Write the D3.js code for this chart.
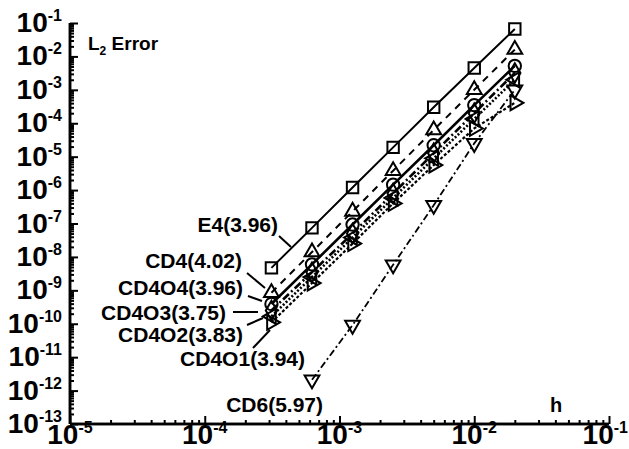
<!DOCTYPE html>
<html>
<head>
<meta charset="utf-8">
<script src="https://cdn.jsdelivr.net/npm/d3@7/dist/d3.min.js"></script>
<style>
  body { margin: 0; background: #fff; }
  svg { display: block; font-family: "Liberation Sans", Arial, sans-serif; font-weight: bold; }
</style>
</head>
<body>
<svg id="chart" width="629" height="449"></svg>
<script>
// grid spacing h (fine -> coarse)
const hValues = [0.0003125, 0.000625, 0.00125, 0.0025, 0.005, 0.01, 0.02]
const hValuesCD6 = [0.000625, 0.00125, 0.0025, 0.005, 0.01, 0.02]

// L2 error of each scheme
const errE4    = [4.7e-9, 7.4e-8, 1.2e-6, 1.9e-5, 3.0e-4, 4.5e-3, 6.6e-2]
const errCD4   = [8.5e-10, 1.4e-8, 2.3e-7, 3.8e-6, 6.3e-5, 1.0e-3, 1.6e-2]
const errCD4O4 = [3.9e-10, 6.0e-9, 9.3e-8, 1.45e-6, 2.2e-5, 3.5e-4, 5.2e-3]
const errCD4O3 = [2.5e-10, 3.5e-9, 5.0e-8, 7.9e-7, 1.26e-5, 2.0e-4, 3.2e-3]
const errCD4O2 = [1.66e-10, 2.5e-9, 3.8e-8, 5.8e-7, 8.9e-6, 1.35e-4, 2.0e-3]
const errCD4O1 = [1.1e-10, 1.65e-9, 2.5e-8, 4.0e-7, 5.6e-6, 7.0e-5, 4.1e-4]
const errCD6   = [2.1e-12, 9.1e-11, 5.8e-9, 3.5e-7, 2.5e-5, 1.0e-3]

const seriesNames = ['E4', 'CD4', 'CD4O4', 'CD4O3', 'CD4O2', 'CD4O1', 'CD6']
const seriesRates = ['3.96', '4.02', '3.96', '3.75', '3.83', '3.94', '5.97']

const xTickExp = [-5, -4, -3, -2, -1]
const yTickExp = [-13, -12, -11, -10, -9, -8, -7, -6, -5, -4, -3, -2, -1]

const series = [
    {name: 'E4',    h: hValues,    e: errE4,    sym: 'square',   dash: null,      w: 2},
    {name: 'CD4',   h: hValues,    e: errCD4,   sym: 'up',       dash: '7,6',     w: 2},
    {name: 'CD4O4', h: hValues,    e: errCD4O4, sym: 'circle',   dash: null,      w: 2.6},
    {name: 'CD4O3', h: hValues,    e: errCD4O3, sym: 'diamond',  dash: '8,3,2,3', w: 2.6},
    {name: 'CD4O2', h: hValues,    e: errCD4O2, sym: 'left',     dash: '2,2',     w: 2.6},
    {name: 'CD4O1', h: hValues,    e: errCD4O1, sym: 'right',    dash: '3,2',     w: 2.2},
    {name: 'CD6',   h: hValuesCD6, e: errCD6,   sym: 'down',     dash: '7,3,2,3', w: 1.8}
]

let svg = d3.select('#chart')

let x = d3.scaleLog().domain([1e-5, 1e-1]).range([70, 609])
let y = d3.scaleLog().domain([1e-13, 1e-1]).range([424, 23])

// minor tick values 2..9 per decade
function minorTicks(lo, hi) {
    let out = []
    for (let p = lo; p < hi; p++) {
        for (let k = 2; k <= 9; k++) out.push(k * Math.pow(10, p))
    }
    return out
}

// x axis
let gx = svg.append('g').attr('transform', 'translate(0,424)')
gx.call(d3.axisBottom(x).tickValues(xTickExp.map(p => Math.pow(10, p))).tickSize(-8).tickFormat(''))
gx.append('g').call(d3.axisBottom(x).tickValues(minorTicks(-5, -1)).tickSize(-4).tickFormat(''))
gx.selectAll('.domain').attr('d', 'M70,0H609')

// y axis
let gy = svg.append('g').attr('transform', 'translate(70,0)')
gy.call(d3.axisLeft(y).tickValues(yTickExp.map(p => Math.pow(10, p))).tickSize(-8).tickFormat(''))
gy.append('g').call(d3.axisLeft(y).tickValues(minorTicks(-13, -1)).tickSize(-4).tickFormat(''))
gy.selectAll('.domain').attr('d', 'M0,23V424')

svg.selectAll('.domain').attr('stroke', '#000').attr('stroke-width', 2.5)
svg.selectAll('.tick line').attr('stroke', '#000').attr('stroke-width', 2)

// tick labels 10^n
function powLabel(g, p) {
    g.append('tspan').text('10')
    g.append('tspan').attr('dy', -11).attr('font-size', 16).text(p)
}
xTickExp.forEach(function (p, i) {
    let last = i == xTickExp.length - 1
    let t = svg.append('text')
        .attr('x', last ? 628 : x(Math.pow(10, p)))
        .attr('y', 444)
        .attr('text-anchor', last ? 'end' : 'middle')
        .attr('font-size', 28)
    powLabel(t, p)
})
yTickExp.forEach(function (p) {
    let t = svg.append('text')
        .attr('x', 62)
        .attr('y', y(Math.pow(10, p)) + 9)
        .attr('text-anchor', 'end')
        .attr('font-size', 28)
    powLabel(t, p)
})

// axis titles
let yt = svg.append('text').attr('x', 88).attr('y', 50).attr('font-size', 19)
yt.append('tspan').text('L')
yt.append('tspan').attr('dy', 5).attr('font-size', 12).text('2')
yt.append('tspan').attr('dy', -5).text(' Error')

svg.append('text').attr('x', 550).attr('y', 412).attr('font-size', 20).text('h')

// marker shapes
function markerPath(sym) {
    if (sym == 'square') return d3.symbol().type(d3.symbolSquare).size(130)()
    if (sym == 'circle') return d3.symbol().type(d3.symbolCircle).size(120)()
    if (sym == 'diamond') return d3.symbol().type(d3.symbolDiamond).size(110)()
    return d3.symbol().type(d3.symbolTriangle).size(95)()
}
let rot = {up: 0, down: 180, right: 90, left: -90}

let line = d3.line().x(d => x(d[0])).y(d => y(d[1]))

series.forEach(function (s) {
    let pts = s.h.map((h, i) => [h, s.e[i]])
    svg.append('path')
        .attr('d', line(pts))
        .attr('fill', 'none')
        .attr('stroke', '#000')
        .attr('stroke-width', s.w)
        .attr('stroke-dasharray', s.dash)

    svg.append('g').selectAll('path')
        .data(pts)
        .enter()
        .append('path')
        .attr('d', markerPath(s.sym))
        .attr('transform', d => 'translate(' + x(d[0]) + ',' + y(d[1]) + ')' +
            (rot[s.sym] !== undefined ? ' rotate(' + rot[s.sym] + ')' : ''))
        .attr('fill', 'none')
        .attr('stroke', '#000')
        .attr('stroke-width', 2)
})

// labels with leader lines (tail end sits near the series' finest point)
let labels = [
    {i: 0, tx: 278, ty: 232, lead: [[279, 236], [291, 247]]},
    {i: 1, tx: 242, ty: 268, lead: [[247, 273], [265, 288]]},
    {i: 2, tx: 243, ty: 295, lead: [[248, 296], [262, 301]]},
    {i: 3, tx: 226, ty: 320, lead: [[233, 312], [258, 312]]},
    {i: 4, tx: 243, ty: 342, lead: [[247, 325], [263, 318]]},
    {i: 5, tx: 305, ty: 366, lead: [[253, 348], [270, 330]]},
    {i: 6, tx: 323, ty: 412, lead: null}
]

labels.forEach(function (l) {
    svg.append('text')
        .attr('x', l.tx)
        .attr('y', l.ty)
        .attr('text-anchor', 'end')
        .attr('font-size', 21)
        .text(seriesNames[l.i] + '(' + seriesRates[l.i] + ')')
    if (l.lead) {
        svg.append('path')
            .attr('d', d3.line()(l.lead))
            .attr('stroke', '#000')
            .attr('stroke-width', 2)
    }
})
</script>
</body>
</html>
